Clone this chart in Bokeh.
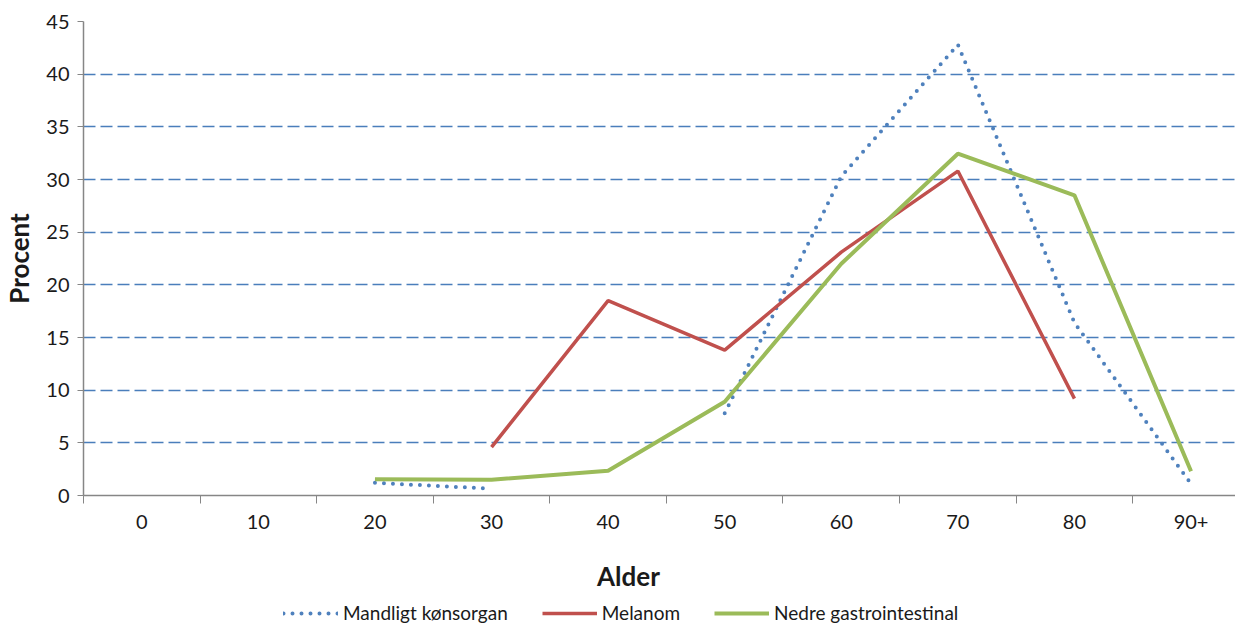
from bokeh.plotting import figure
from bokeh.models import FixedTicker, Legend, LegendItem, Range1d, Label
from bokeh.layouts import column
from bokeh.embed import file_html
from bokeh.resources import INLINE
import numpy as np

categories = ["0", "10", "20", "30", "40", "50", "60", "70", "80", "90+"]
mandligt = [np.nan, np.nan, 1.2, 0.65, np.nan, 7.8, 30.3, 42.8, 16.4, 1.1]
melanom = [np.nan, np.nan, np.nan, 4.6, 18.5, 13.8, 23.1, 30.8, 9.2, np.nan]
nedre = [np.nan, np.nan, 1.55, 1.5, 2.35, 8.9, 22.0, 32.45, 28.5, 2.3]
y_ticks = [0, 5, 10, 15, 20, 25, 30, 35, 40, 45]
series_names = ["Mandligt kønsorgan", "Melanom", "Nedre gastrointestinal"]

FONT = "Lato"
x = list(range(len(categories)))

p = figure(frame_width=1153, frame_height=474, output_backend="svg",
           toolbar_location=None, x_range=Range1d(-0.5, 9.39), y_range=Range1d(0, 45))
p.min_border_left = 82
p.min_border_top = 21
p.min_border_right = 0
p.min_border_bottom = 0
p.outline_line_color = None
p.background_fill_color = "white"

# x axis
p.xaxis.ticker = FixedTicker(ticks=x, minor_ticks=[i - 0.5 for i in range(len(categories) + 1)])
p.xaxis.major_label_overrides = {i: c for i, c in enumerate(categories)}
p.xaxis.major_tick_out = 0
p.xaxis.major_tick_in = 0
p.xaxis.minor_tick_out = 8
p.xaxis.minor_tick_in = 0
p.xaxis.minor_tick_line_color = "#868686"
p.xaxis.axis_line_color = "#868686"
p.xaxis.axis_line_width = 1.5
p.xaxis.major_label_text_font = FONT
p.xaxis.major_label_text_font_size = "20px"
p.xaxis.major_label_text_color = "#1a1a1a"
p.xaxis.major_label_standoff = 11

# y axis
p.yaxis.ticker = FixedTicker(ticks=y_ticks)
p.yaxis.major_tick_out = 6
p.yaxis.major_tick_in = 0
p.yaxis.minor_tick_line_color = None
p.yaxis.major_tick_line_color = "#868686"
p.yaxis.axis_line_color = "#868686"
p.yaxis.axis_line_width = 1.5
p.yaxis.major_label_text_font = FONT
p.yaxis.major_label_text_font_size = "20px"
p.yaxis.major_label_text_color = "#1a1a1a"
p.yaxis.major_label_standoff = 8
p.yaxis.axis_label = "Procent"
p.yaxis.axis_label_text_font = FONT
p.yaxis.axis_label_text_font_size = "26px"
p.yaxis.axis_label_text_font_style = "bold"
p.yaxis.axis_label_text_color = "#1a1a1a"
p.yaxis.axis_label_standoff = 8

p.xgrid.grid_line_color = None
p.ygrid.ticker = FixedTicker(ticks=y_ticks[1:])
p.ygrid.grid_line_color = "#4A7EBB"
p.ygrid.grid_line_width = 1.4
p.ygrid.grid_line_dash = "12 5"

styles = [dict(line_color="#4F81BD", line_width=4, line_dash="0 9", line_cap="round"),
          dict(line_color="#C0504D", line_width=3.5),
          dict(line_color="#9BBB59", line_width=4)]
series = [mandligt, melanom, nedre]
for vals, st in zip(series, styles):
    p.line(x, vals, **st)

# lower panel: axis title and legend
p2 = figure(width=1235, height=95, output_backend="svg", toolbar_location=None,
            x_axis_type=None, y_axis_type=None,
            x_range=Range1d(-0.5, 9.39), y_range=Range1d(100, 101))
p2.min_border = 0
p2.outline_line_color = None
legend_renderers = [p2.line(x, vals, **st) for vals, st in zip(series, styles)]

p2.add_layout(Label(x=545, y=51, x_units="screen", y_units="screen", text="Alder",
                    text_align="center", text_baseline="middle", text_font=FONT,
                    text_font_size="26px", text_font_style="bold", text_color="#1a1a1a"))

legend = Legend(items=[LegendItem(label=n, renderers=[r]) for n, r in zip(series_names, legend_renderers)],
                orientation="horizontal", location=(200, 2))
legend.label_text_font = FONT
legend.label_text_font_size = "19px"
legend.label_text_color = "#1a1a1a"
legend.label_height = 18
legend.glyph_height = 18
legend.glyph_width = 55
legend.label_standoff = 5
legend.spacing = 34
legend.border_line_color = None
legend.background_fill_alpha = 0
legend.padding = 0
legend.margin = 0
p2.add_layout(legend)

open("out.html", "w").write(file_html(column(p, p2, spacing=0), INLINE))
